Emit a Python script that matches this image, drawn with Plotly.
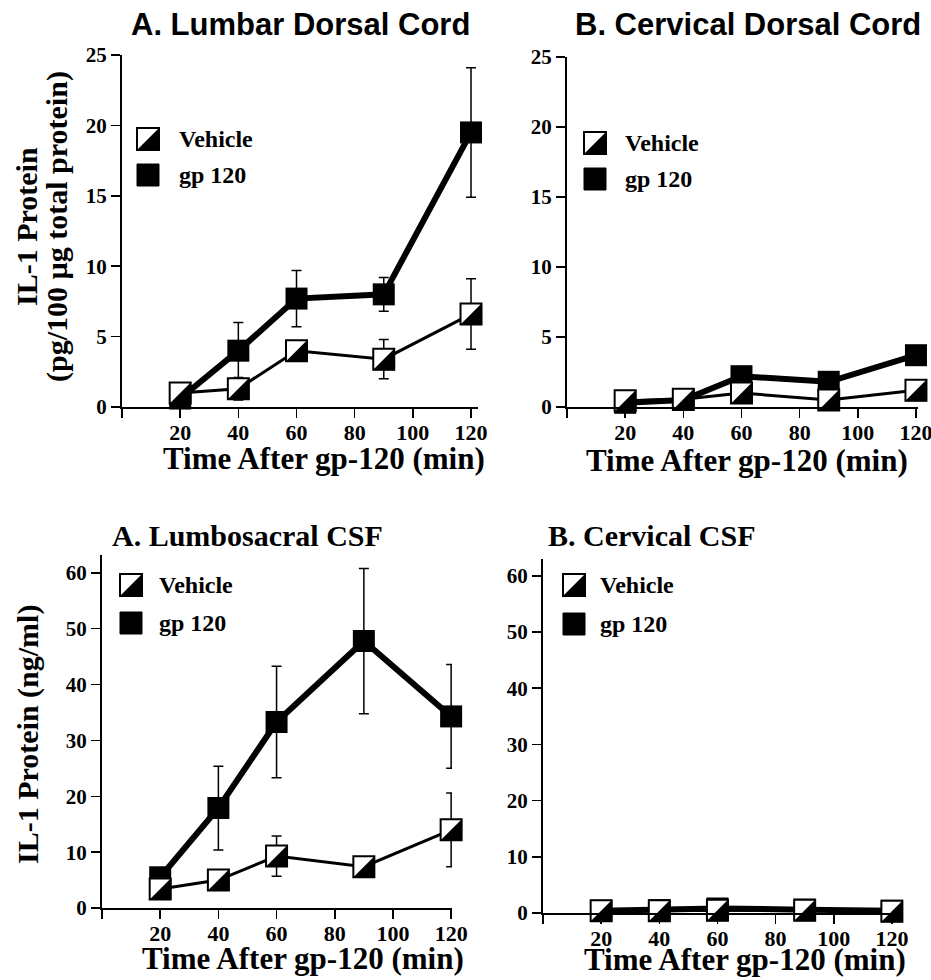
import plotly.graph_objects as go

# ---------------- data ----------------
times = [20, 40, 60, 90, 120]
x_tick_values = [0, 20, 40, 60, 80, 100, 120]
x_tick_labels = ["", "20", "40", "60", "80", "100", "120"]
cord_y_ticks = [0, 5, 10, 15, 20, 25]
csf_y_ticks = [0, 10, 20, 30, 40, 50, 60]
series_names = ["Vehicle", "gp 120"]

lumbar_cord_vehicle = [1.0, 1.3, 4.0, 3.4, 6.6]
lumbar_cord_vehicle_sem = [0.3, 0.8, 0.5, 1.4, 2.5]
lumbar_cord_gp120 = [0.6, 4.0, 7.7, 8.0, 19.5]
lumbar_cord_gp120_sem = [0.3, 2.0, 2.0, 1.2, 4.6]

cervical_cord_vehicle = [0.45, 0.55, 1.0, 0.5, 1.2]
cervical_cord_vehicle_sem = [0.2, 0.2, 0.3, 0.2, 0.4]
cervical_cord_gp120 = [0.3, 0.5, 2.2, 1.8, 3.7]
cervical_cord_gp120_sem = [0.2, 0.2, 0.4, 0.3, 0.5]

lumbosacral_csf_vehicle = [3.4, 5.0, 9.3, 7.4, 14.0]
lumbosacral_csf_vehicle_sem = [1.0, 1.5, 3.6, 1.5, 6.6]
lumbosacral_csf_gp120 = [5.5, 17.9, 33.3, 47.8, 34.3]
lumbosacral_csf_gp120_sem = [1.5, 7.5, 10.0, 13.0, 9.3]

cervical_csf_vehicle = [0.4, 0.4, 0.5, 0.5, 0.3]
cervical_csf_vehicle_sem = [0.1, 0.1, 0.1, 0.1, 0.1]
cervical_csf_gp120 = [0.4, 0.5, 0.8, 0.6, 0.4]
cervical_csf_gp120_sem = [0.1, 0.1, 0.2, 0.1, 0.1]

panel_titles = ["A. Lumbar Dorsal Cord", "B. Cervical Dorsal Cord",
                "A. Lumbosacral CSF", "B. Cervical CSF"]
x_title = "Time After gp-120 (min)"
cord_y_title = ["IL-1 Protein", "(pg/100 µg total protein)"]
csf_y_title = "IL-1 Protein (ng/ml)"

# ---------------- layout geometry (pixels) ----------------
W, H = 931, 980
SERIF = "Liberation Serif"
SANS = "Liberation Sans"

panels = [
    dict(veh=lumbar_cord_vehicle, veh_e=lumbar_cord_vehicle_sem,
         gp=lumbar_cord_gp120, gp_e=lumbar_cord_gp120_sem, yt=cord_y_ticks,
         xl=122, xr=478, xmax=122.4, yb=407, ytp=55, ymax=25,
         title_xy=(300, 25), title_font=SANS, xt_xy=(324, 458),
         leg_marker_x=148, leg_y=(139, 175), leg_text_x=177),
    dict(veh=cervical_cord_vehicle, veh_e=cervical_cord_vehicle_sem,
         gp=cervical_cord_gp120, gp_e=cervical_cord_gp120_sem, yt=cord_y_ticks,
         xl=567, xr=918, xmax=120.7, yb=407, ytp=57, ymax=25,
         title_xy=(748, 25), title_font=SANS, xt_xy=(747, 460),
         leg_marker_x=595, leg_y=(143, 179), leg_text_x=623),
    dict(veh=lumbosacral_csf_vehicle, veh_e=lumbosacral_csf_vehicle_sem,
         gp=lumbosacral_csf_gp120, gp_e=lumbosacral_csf_gp120_sem, yt=csf_y_ticks,
         xl=102, xr=452, xmax=120.3, yb=908, ytp=555, ymax=63.2,
         title_xy=(247, 535), title_font=SERIF, xt_xy=(303, 958),
         leg_marker_x=131, leg_y=(585, 623), leg_text_x=157),
    dict(veh=cervical_csf_vehicle, veh_e=cervical_csf_vehicle_sem,
         gp=cervical_csf_gp120, gp_e=cervical_csf_gp120_sem, yt=csf_y_ticks,
         xl=543, xr=898, xmax=122.1, yb=913, ytp=559, ymax=63.0,
         title_xy=(651, 535), title_font=SERIF, xt_xy=(745, 959),
         leg_marker_x=574, leg_y=(585, 624), leg_text_x=598),
]

PAD = 10          # hidden helper axes extend this many px beyond each panel
HALF = 11         # half-size of the vehicle half-filled square (px)
MSIZE = 21

fig = go.Figure()
layout = dict(width=W, height=H,
              margin=dict(l=0, r=0, t=0, b=0, pad=0, autoexpand=False),
              paper_bgcolor="white", plot_bgcolor="rgba(0,0,0,0)", showlegend=False)
shapes, annotations = [], []


def px(x):
    return x / W


def py(y):
    return 1 - y / H


tri_path = f"M-{HALF},-{HALF}L{HALF},{HALF}L{HALF},-{HALF}Z"
sq_path = f"M-{HALF},-{HALF}L-{HALF},{HALF}L{HALF},{HALF}L{HALF},-{HALF}Z"

for i, p in enumerate(panels):
    n = i + 1
    hn = i + 5
    xid = "x" if n == 1 else f"x{n}"
    yid = "y" if n == 1 else f"y{n}"
    hx, hy = f"x{hn}", f"y{hn}"
    kx = (p["xr"] - p["xl"]) / p["xmax"]
    ky = (p["yb"] - p["ytp"]) / p["ymax"]

    layout["xaxis" if n == 1 else f"xaxis{n}"] = dict(
        domain=[px(p["xl"]), px(p["xr"])], range=[0, p["xmax"]], anchor=yid,
        showline=True, linecolor="black", linewidth=2, showgrid=False, zeroline=False,
        ticks="outside", ticklen=9, tickwidth=1.5, tickcolor="black",
        tickvals=x_tick_values, ticktext=x_tick_labels, automargin=False,
        ticklabeloverflow="allow", ticklabelstandoff=-4,
        tickfont=dict(family=SERIF, size=22, color="black", weight="bold"))
    layout["yaxis" if n == 1 else f"yaxis{n}"] = dict(
        domain=[py(p["yb"]), py(p["ytp"])], range=[0, p["ymax"]], anchor=xid,
        showline=True, linecolor="black", linewidth=2, showgrid=False, zeroline=False,
        ticks="outside", ticklen=9, tickwidth=1.5, tickcolor="black",
        tickvals=p["yt"], automargin=False, ticklabeloverflow="allow",
        tickfont=dict(family=SERIF, size=21, color="black", weight="bold"))
    # hidden helper axes with identical scale but a bit larger area (no clipping)
    layout[f"xaxis{hn}"] = dict(
        domain=[px(p["xl"] - PAD), px(p["xr"] + PAD)],
        range=[-PAD / kx, p["xmax"] + PAD / kx], anchor=hy, visible=False)
    layout[f"yaxis{hn}"] = dict(
        domain=[py(p["yb"] + PAD), py(p["ytp"] - PAD)],
        range=[-PAD / ky, p["ymax"] + PAD / ky], anchor=hx, visible=False)
    fig.add_trace(go.Scatter(x=[], y=[], xaxis=hx, yaxis=hy, hoverinfo="skip"))

    # gp 120 (drawn first, vehicle on top)
    fig.add_trace(go.Scatter(
        x=times, y=p["gp"], xaxis=xid, yaxis=yid, mode="lines+markers",
        line=dict(color="black", width=6),
        marker=dict(symbol="square", size=MSIZE + 1, color="black"),
        error_y=dict(type="data", array=p["gp_e"], color="black", thickness=1.5, width=5),
        cliponaxis=False, name=series_names[1]))
    fig.add_trace(go.Scatter(
        x=times, y=p["veh"], xaxis=xid, yaxis=yid, mode="lines+markers",
        line=dict(color="black", width=3),
        marker=dict(symbol="square", size=MSIZE, color="white",
                    line=dict(color="black", width=2)),
        error_y=dict(type="data", array=p["veh_e"], color="black", thickness=1.5, width=5),
        cliponaxis=False, name=series_names[0]))
    for t, v in zip(times, p["veh"]):
        shapes.append(dict(type="path", xref=hx, yref=hy, xsizemode="pixel",
                           ysizemode="pixel", xanchor=t, yanchor=v, path=tri_path,
                           fillcolor="black", line=dict(width=0), layer="above"))

    # legend
    lx = px(p["leg_marker_x"])
    ly_v, ly_g = py(p["leg_y"][0]), py(p["leg_y"][1])
    shapes.append(dict(type="path", xref="paper", yref="paper", xsizemode="pixel",
                       ysizemode="pixel", xanchor=lx, yanchor=ly_v, path=sq_path,
                       fillcolor="white", line=dict(color="black", width=2)))
    shapes.append(dict(type="path", xref="paper", yref="paper", xsizemode="pixel",
                       ysizemode="pixel", xanchor=lx, yanchor=ly_v, path=tri_path,
                       fillcolor="black", line=dict(width=0)))
    shapes.append(dict(type="path", xref="paper", yref="paper", xsizemode="pixel",
                       ysizemode="pixel", xanchor=lx, yanchor=ly_g, path=sq_path,
                       fillcolor="black", line=dict(color="black", width=1)))
    for name, ly in zip(series_names, (ly_v, ly_g)):
        annotations.append(dict(text=name, xref="paper", yref="paper",
                                x=px(p["leg_text_x"]), y=ly, xanchor="left",
                                yanchor="middle", showarrow=False,
                                font=dict(family=SERIF, size=24, color="black",
                                          weight="bold")))

    # panel title
    annotations.append(dict(text=panel_titles[i], xref="paper", yref="paper",
                            x=px(p["title_xy"][0]), y=py(p["title_xy"][1]),
                            xanchor="center", yanchor="middle", showarrow=False,
                            font=dict(family=p["title_font"],
                                      size=31 if p["title_font"] == SANS else 30,
                                      color="black", weight="bold")))
    # x-axis title
    annotations.append(dict(text=x_title, xref="paper", yref="paper",
                            x=px(p["xt_xy"][0]), y=py(p["xt_xy"][1]),
                            xanchor="center", yanchor="middle", showarrow=False,
                            font=dict(family=SERIF, size=31, color="black",
                                      weight="bold")))

# y-axis titles
for txt, xc in zip(cord_y_title, (26, 57)):
    annotations.append(dict(text=txt, xref="paper", yref="paper", x=px(xc), y=py(227),
                            xanchor="center", yanchor="middle", showarrow=False,
                            textangle=-90,
                            font=dict(family=SERIF, size=30, color="black",
                                      weight="bold")))
annotations.append(dict(text=csf_y_title, xref="paper", yref="paper", x=px(28),
                        y=py(735), xanchor="center", yanchor="middle",
                        showarrow=False, textangle=-90,
                        font=dict(family=SERIF, size=30, color="black", weight="bold")))

layout["shapes"] = shapes
layout["annotations"] = annotations
fig.update_layout(**layout)

# pin the figure to the page origin so the page is exactly the figure size
pin_script = (
    "document.body.style.margin='0';"
    "document.body.style.overflow='hidden';"
    "var gd=document.getElementById('{plot_id}');"
    "gd.style.position='absolute';gd.style.left='0px';gd.style.top='0px';"
)
fig.write_html("out.html", post_script=pin_script,
               config={"displayModeBar": False, "staticPlot": True})
